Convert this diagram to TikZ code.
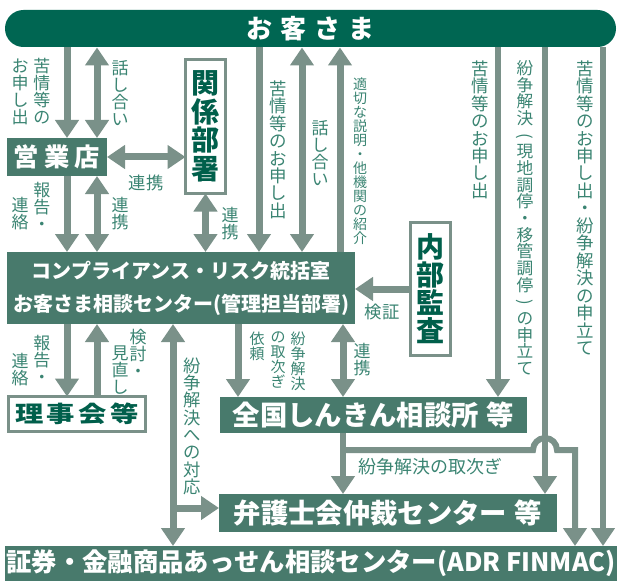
\documentclass[tikz,border=0pt]{standalone}
\usepackage{fontspec}
\usepackage{graphicx}
\setmainfont{Noto Sans CJK JP}
\usetikzlibrary{arrows.meta}

\definecolor{barc}{RGB}{0,102,82}
\definecolor{boxc}{RGB}{72,122,108}
\definecolor{arrc}{RGB}{122,145,137}
\definecolor{darkc}{RGB}{0,95,75}
\definecolor{labc}{RGB}{58,132,114}
\newcommand{\tightlines}{\lineskiplimit=-20pt\relax}
\newcommand{\vparl}{\rotatebox[origin=c]{-90}{(}}
\newcommand{\vparr}{\rotatebox[origin=c]{-90}{)}}

\tikzset{every picture/.style={line width=0.75pt}}
\tikzset{
	arr/.style={draw=arrc, line width=5.25pt, >={Triangle[width=17.25pt,length=13.5pt]}, ->},
	darr/.style={arr, <->},
	arrt/.style={arr, line width=4.5pt},
	fbox/.style={fill=boxc, text=white, inner sep=0pt, outer sep=0pt},
	wbox/.style={draw=arrc, line width=2.25pt, fill=white, text=darkc, inner sep=0pt, outer sep=0pt},
	vlab/.style={text=labc, align=center, inner sep=0pt, anchor=north, font={\fontsize{#1}{#1}\selectfont\tightlines}},
	vlab/.default=13pt,
	hlab/.style={text=labc, inner sep=0pt, font={\fontsize{13pt}{13pt}\selectfont}},
}

\begin{document}
\begin{tikzpicture}[x=0.75pt,y=0.75pt,yscale=-1,xscale=1]
	\useasboundingbox (0,0) rectangle (617,581);

	%Shape: Rounded Rect
	\node[fill=barc, text=white, rounded corners=13.8pt, minimum width=458.25pt, minimum height=27.75pt, inner sep=0pt, font={\fontsize{19.5pt}{20pt}\selectfont\bfseries}] (okyaku) at (310.5,28.5) {お\kern6pt 客\kern6pt さ\kern6pt ま};
	%Shape: Rectangle
	\node[fbox, minimum width=75pt, minimum height=28.5pt, font={\fontsize{19pt}{19pt}\selectfont\bfseries}] (eigyo) at (57,157) {営\kern4pt 業\kern4pt 店};
	%Shape: Rectangle
	\node[wbox, minimum width=30pt, minimum height=100.5pt, align=center, font={\fontsize{21pt}{21.4pt}\selectfont\bfseries\tightlines}] (kankei) at (205.5,126.5) {関\\係\\部\\署};
	%Shape: Rectangle
	\node[fbox, minimum width=261pt, minimum height=54pt, align=center, font={\fontsize{15pt}{24.75pt}\selectfont\bfseries}] (crs) at (181,288) {コンプライアンス・リスク統括室\\お客さま相談センター(管理担当部署)};
	%Shape: Rectangle
	\node[wbox, minimum width=30pt, minimum height=99.75pt, align=center, font={\fontsize{21pt}{21pt}\selectfont\bfseries\tightlines}] (naibu) at (430.5,289) {内\\部\\監\\査};
	%Shape: Rectangle
	\node[wbox, minimum width=102.75pt, minimum height=26.25pt, font={\fontsize{17pt}{17pt}\selectfont\bfseries}] (riji) at (77,414) {\scalebox{1.25}[1]{理\kern2pt 事\kern2pt 会\kern2pt 等}};
	%Shape: Rectangle
	\node[fbox, minimum width=230.25pt, minimum height=27pt, font={\fontsize{20.5pt}{20.5pt}\selectfont\bfseries}] (zenkoku) at (373.5,415) {全国しんきん相談所\hspace{6pt}等};
	%Shape: Rectangle
	\node[fbox, minimum width=253.5pt, minimum height=28.5pt, font={\fontsize{20.5pt}{20.5pt}\selectfont\bfseries}] (bengo) at (388,513) {弁護士会仲裁センター\hspace{6pt}等};
	%Shape: Rectangle
	\node[fbox, minimum width=459pt, minimum height=26.25pt, font={\fontsize{19pt}{19pt}\selectfont\bfseries}] (shoken) at (311,563.5) {証券・金融商品あっせん相談センター(ADR FINMAC)};

	% columns of the connectors
	\coordinate (c67) at (67,0);
	\coordinate (c97) at (97,0);
	\coordinate (c173) at (173,0);
	\coordinate (c238) at (238,0);
	\coordinate (c259) at (259,0);
	\coordinate (c302) at (302,0);
	\coordinate (c340) at (340,0);
	\coordinate (c343) at (343,0);
	\coordinate (c498) at (498,0);
	\coordinate (c545) at (545,0);
	\coordinate (c575) at (575,0);
	\coordinate (c603) at (603,0);
	\coordinate (jb) at (173,508);
	\coordinate (jz) at (343,450);

	%Straight Lines
	\draw[arr] (okyaku.south -| c67) -- (eigyo.north -| c67);
	\draw[darr] (okyaku.south -| c97) -- (eigyo.north -| c97);
	\draw[darr] (eigyo.east) -- (kankei.west |- eigyo.east);
	\draw[arr] (eigyo.south -| c67) -- (crs.north -| c67);
	\draw[darr] (eigyo.south -| c97) -- (crs.north -| c97);
	\draw[darr] (kankei.south) -- (crs.north -| kankei.south);
	\draw[arr] (okyaku.south -| c259) -- (crs.north -| c259);
	\draw[darr] (okyaku.south -| c302) -- (crs.north -| c302);
	\draw[arr] (crs.north -| c340) -- (okyaku.south -| c340);
	\draw[arrt] (okyaku.south -| c498) -- (zenkoku.north -| c498);
	\draw[arrt] (okyaku.south -| c545) -- (bengo.north -| c545);
	\draw[arrt] (okyaku.south -| c603) -- (shoken.north -| c603);
	\draw[arr] (naibu.west) -- (crs.east |- naibu.west);
	\draw[arr] (crs.south -| c67) -- (riji.north -| c67);
	\draw[arr] (riji.north -| c97) -- (crs.south -| c97);
	\draw[darr] (crs.south -| c173) -- (shoken.north -| c173);
	\draw[arr] (jb) -- (bengo.west |- jb);
	\draw[arr] (crs.south -| c238) -- (zenkoku.north -| c238);
	\draw[darr] (crs.south -| c343) -- (zenkoku.north -| c343);
	\draw[arrt] (zenkoku.south -| c343) -- (bengo.north -| c343);
	%Curve Lines
	\draw[arrt] (jz) -- (533,450) arc[start angle=180, end angle=360, radius=12] -- (575,450) -- (shoken.north -| c575);

	% Text Node
	\node[vlab=12.75pt] (t1a) at (42,58) {苦\\情\\等\\の};
	\node[vlab=12.75pt] (t1b) at (20,58) {お\\申\\し\\出};
	\node[vlab=12.75pt] (t2) at (120,60) {話\\し\\合\\い};
	\node[hlab] (t3) at (146,183) {連携};
	\node[vlab=12.75pt] (t4a) at (42,182) {報\\告\\・};
	\node[vlab=12.75pt] (t4b) at (20,197) {連\\絡};
	\node[vlab=12.75pt] (t5) at (120,197) {連\\携};
	\node[vlab=12.75pt] (t6) at (230,207) {連\\携};
	\node[vlab=13.1pt] (t7) at (278,80) {苦\\情\\等\\の\\お\\申\\し\\出};
	\node[vlab=12.75pt] (t8) at (320,120) {話\\し\\合\\い};
	\node[vlab=10.5pt] (t9) at (360,77) {適\\切\\な\\説\\明\\・\\他\\機\\関\\の\\紹\\介};
	\node[vlab=13.1pt] (t10) at (480,60) {苦\\情\\等\\の\\お\\申\\し\\出};
	\node[vlab=12.5pt] (t11) at (525,60) {紛\\争\\解\\決\\\vparl\\現\\地\\調\\停\\・\\移\\管\\調\\停\\\vparr\\の\\申\\立\\て};
	\node[vlab=13.1pt] (t12) at (585,60) {苦\\情\\等\\の\\お\\申\\し\\出\\・\\紛\\争\\解\\決\\の\\申\\立\\て};
	\node[vlab=12.75pt] (t13a) at (42,335) {報\\告\\・};
	\node[vlab=12.75pt] (t13b) at (20,353) {連\\絡};
	\node[vlab=12.75pt] (t14a) at (138,329) {検\\討\\・};
	\node[vlab=12.75pt] (t14b) at (120,345) {見\\直\\し};
	\node[vlab=13pt] (t15) at (192,357) {紛\\争\\解\\決\\へ\\の\\対\\応};
	\node[vlab=11.25pt] (t16a) at (298,331) {紛\\争\\解\\決};
	\node[vlab=11.25pt] (t16b) at (278,331) {の\\取\\次\\ぎ};
	\node[vlab=11.25pt] (t16c) at (257,331) {依\\頼};
	\node[vlab=12.75pt] (t17) at (362,343) {連\\携};
	\node[hlab] (t18) at (382,312) {検証};
	\node[hlab, font={\fontsize{13.5pt}{13.5pt}\selectfont}] (t19) at (430,467) {紛争解決の取次ぎ};

\end{tikzpicture}
\end{document}
